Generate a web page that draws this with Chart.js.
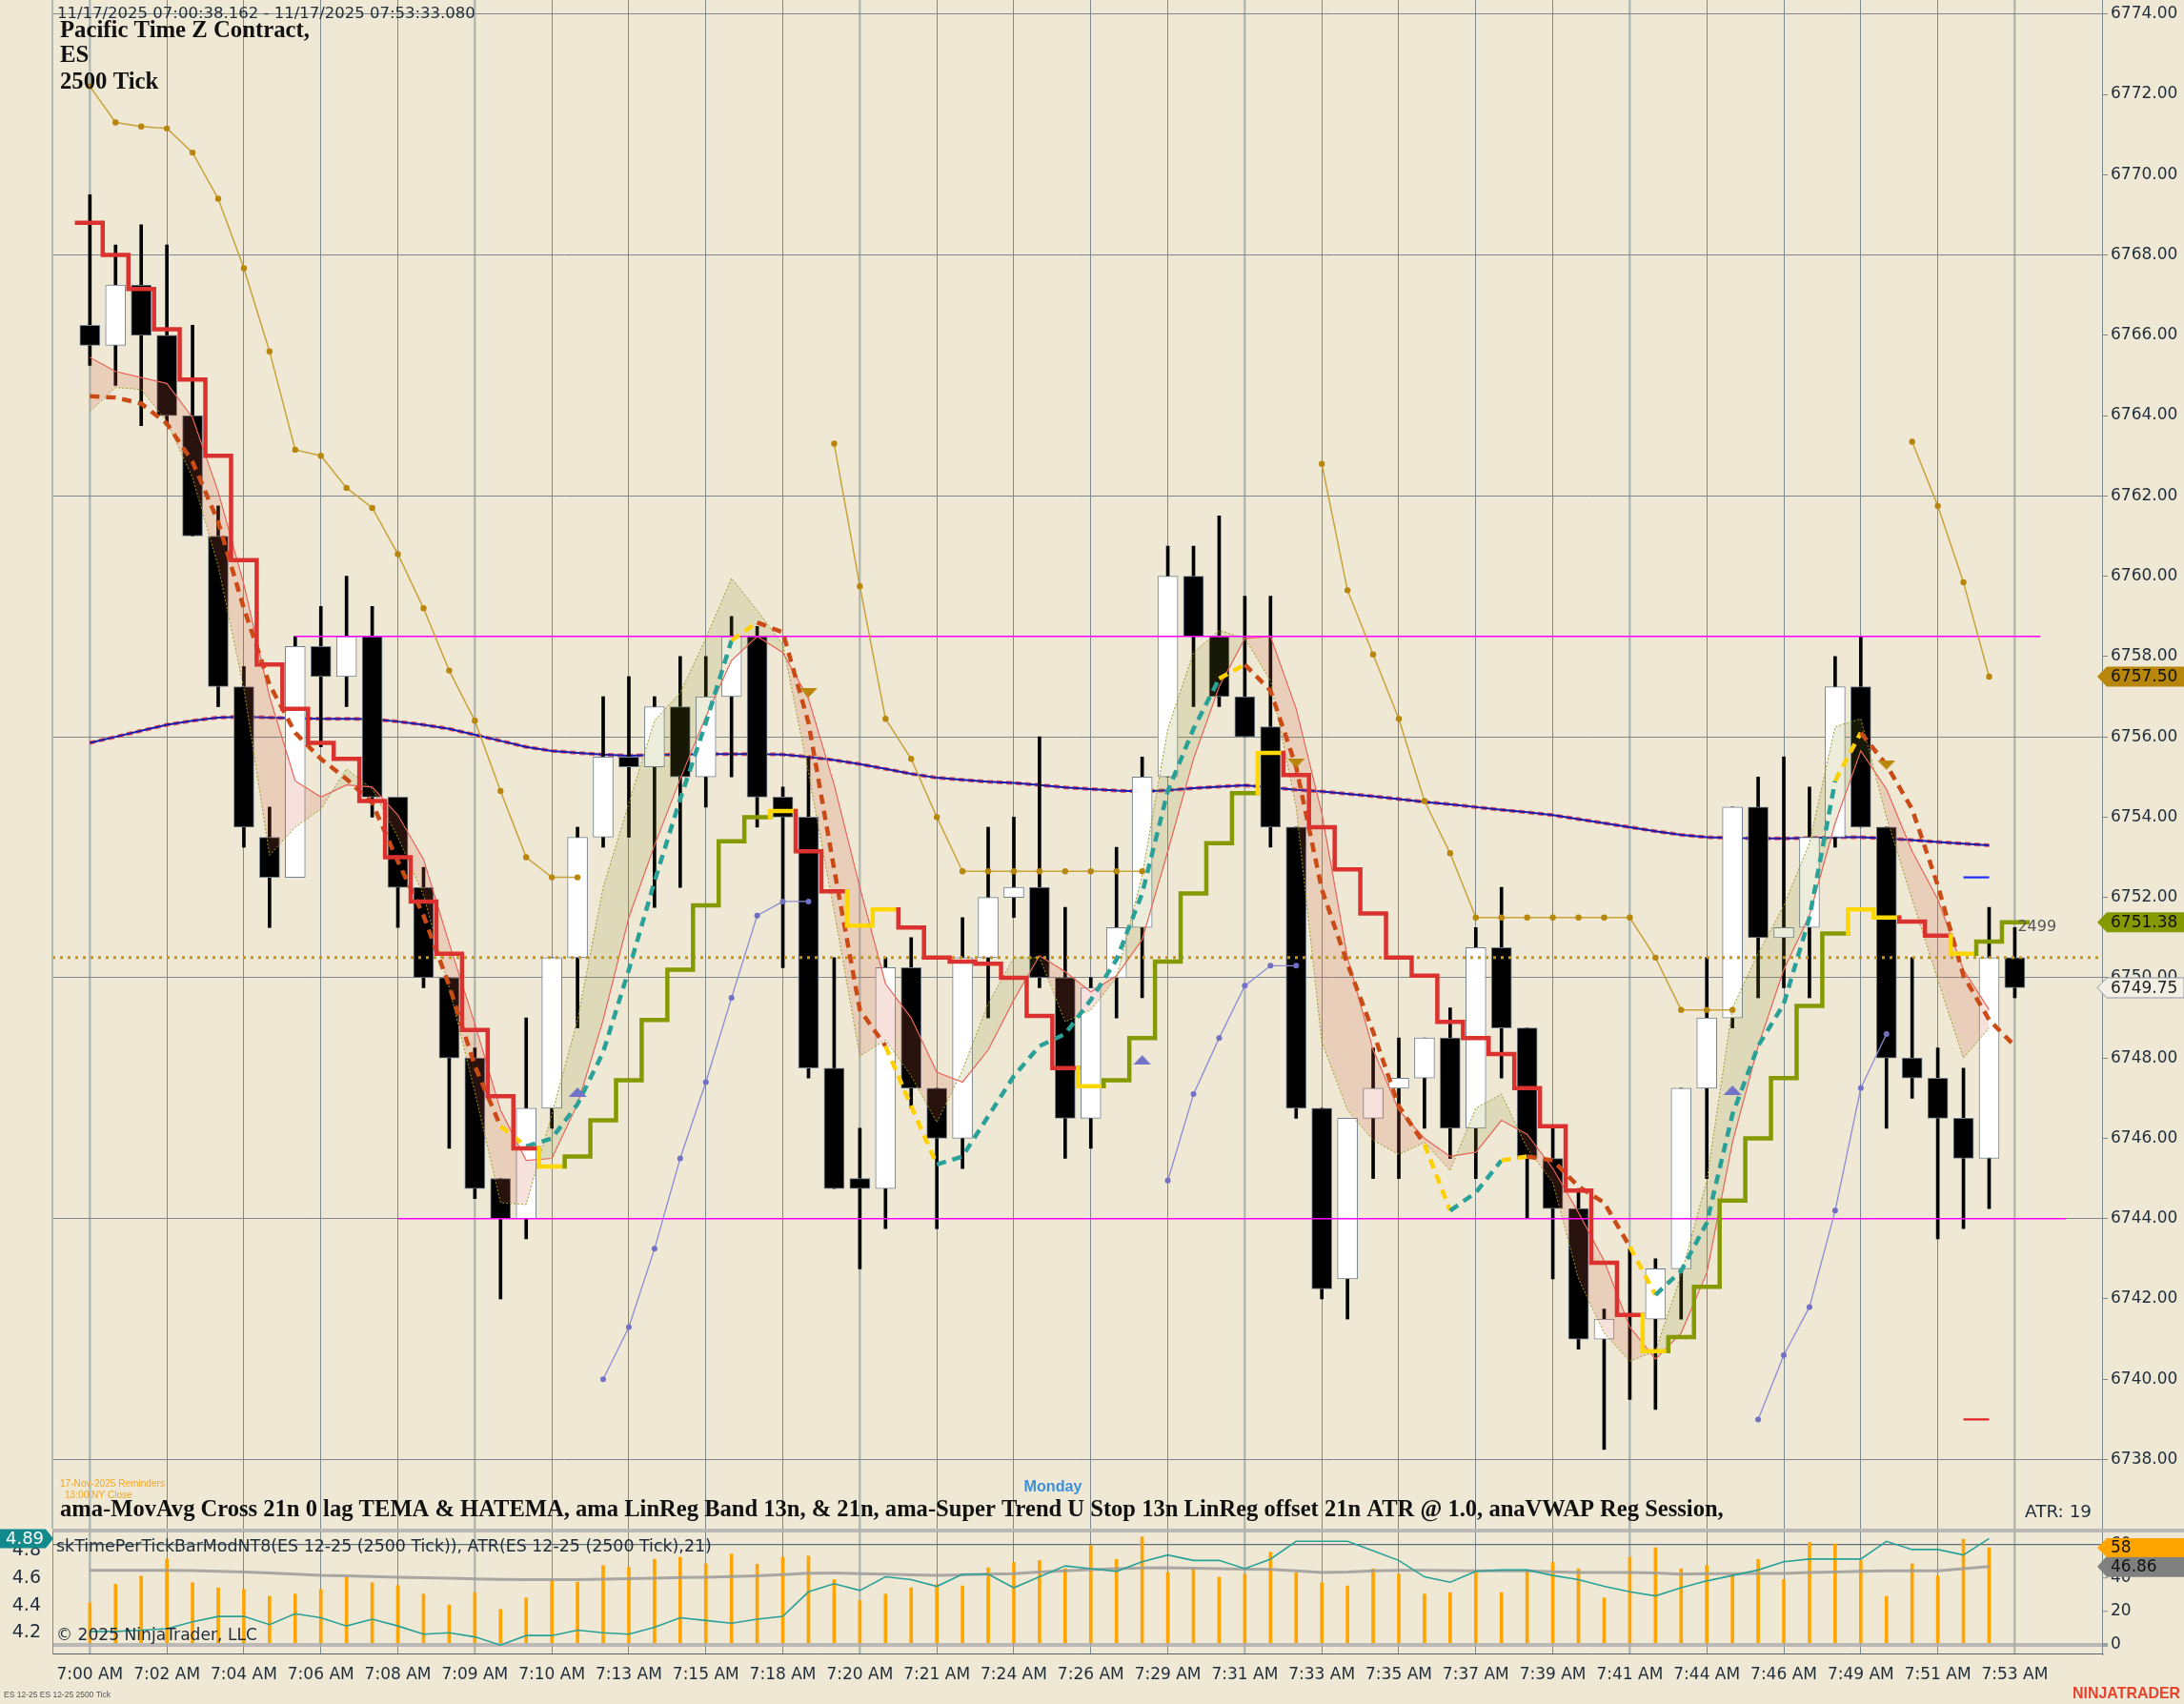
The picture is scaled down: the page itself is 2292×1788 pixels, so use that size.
<!DOCTYPE html>
<html><head><meta charset="utf-8">
<script src="https://cdn.jsdelivr.net/npm/chart.js@4.4.1/dist/chart.umd.min.js"></script>
<style>
html,body{margin:0;padding:0;background:#EEE8D5;width:2292px;height:1788px;overflow:hidden}
canvas{position:absolute;left:0}
#main{top:0}
#sub{top:1604px}
</style></head><body>
<canvas id="main" width="2292" height="1604"></canvas>
<canvas id="sub" width="2292" height="184"></canvas>
<script>
const N = null;
const timeLabels = ['7:00 AM','7:02 AM','7:04 AM','7:06 AM','7:08 AM','7:09 AM','7:10 AM','7:13 AM','7:15 AM','7:18 AM','7:20 AM','7:21 AM','7:24 AM','7:26 AM','7:29 AM','7:31 AM','7:33 AM','7:35 AM','7:37 AM','7:39 AM','7:41 AM','7:44 AM','7:46 AM','7:49 AM','7:51 AM','7:53 AM'];

const openP = [6766.25,6765.75,6767.25,6766.0,6764.0,6761.0,6757.25,6753.5,6752.5,6758.25,
6757.5,6758.5,6754.5,6752.25,6750.0,6748.0,6745.0,6744.0,6746.75,6750.5,
6753.5,6755.5,6755.25,6756.75,6755.0,6757.0,6758.5,6754.5,6754.0,6747.75,
6745.0,6744.75,6750.25,6747.25,6746.0,6750.5,6752.0,6752.25,6750.0,6746.5,
6750.0,6751.25,6755.0,6760.0,6758.5,6757.0,6756.25,6753.75,6746.75,6742.5,
6746.5,6747.25,6747.5,6748.5,6746.25,6750.75,6748.75,6745.5,6744.25,6741.0,
6741.5,6741.5,6742.75,6747.25,6749.0,6754.25,6751.0,6751.25,6753.5,6757.25,
6753.75,6748.0,6747.5,6746.5,6745.5,6750.5];
const highP = [6769.5,6768.25,6768.75,6768.25,6766.25,6761.75,6757.75,6754.25,6758.5,6759.25,
6760.0,6759.25,6754.5,6752.75,6750.0,6748.25,6745.0,6749.0,6750.5,6753.75,
6757.0,6757.5,6757.0,6758.0,6758.0,6759.0,6758.75,6754.75,6755.5,6750.5,
6746.25,6750.5,6751.0,6747.25,6751.5,6753.75,6754.0,6756.0,6751.75,6750.0,
6753.25,6755.5,6760.75,6760.75,6761.5,6759.5,6759.5,6753.75,6746.75,6746.5,
6748.25,6748.5,6748.5,6749.25,6751.25,6752.25,6748.75,6746.25,6744.75,6741.75,
6743.25,6743.0,6747.25,6750.5,6754.25,6755.0,6755.5,6754.75,6758.0,6758.5,
6753.75,6750.5,6748.25,6747.75,6751.75,6751.25];
const lowP = [6765.25,6764.75,6763.75,6763.75,6761.0,6756.75,6753.25,6751.25,6752.5,6755.75,
6756.75,6754.0,6751.25,6749.75,6745.75,6744.5,6742.0,6743.5,6746.25,6748.75,
6753.25,6753.5,6751.75,6752.25,6754.25,6755.0,6753.75,6750.25,6747.5,6744.75,
6742.75,6743.75,6746.75,6743.75,6745.25,6749.0,6751.5,6749.75,6745.5,6745.75,
6749.0,6749.5,6755.0,6756.75,6756.75,6756.0,6753.25,6746.5,6742.0,6741.5,
6745.0,6745.0,6746.25,6745.5,6745.0,6747.5,6744.0,6742.5,6740.75,6738.25,
6739.5,6739.25,6741.5,6745.0,6748.75,6749.5,6749.75,6749.5,6753.25,6753.75,
6746.25,6747.0,6743.5,6743.75,6744.25,6749.5];
const closeP = [6765.75,6767.25,6766.0,6764.0,6761.0,6757.25,6753.75,6752.5,6758.25,6757.5,
6758.5,6754.5,6752.25,6750.0,6748.0,6744.75,6744.0,6746.75,6750.5,6753.5,
6755.5,6755.25,6756.75,6755.0,6757.0,6758.5,6754.5,6754.0,6747.75,6744.75,
6744.75,6750.25,6747.25,6746.0,6750.5,6752.0,6752.25,6750.0,6746.5,6749.75,
6751.25,6755.0,6760.0,6758.5,6757.0,6756.0,6753.75,6746.75,6742.25,6746.5,
6747.25,6747.5,6748.5,6746.25,6750.75,6748.75,6745.5,6744.25,6741.0,6741.5,
6741.5,6742.75,6747.25,6749.0,6754.25,6751.0,6751.25,6753.5,6757.25,6753.75,
6748.0,6747.5,6746.5,6745.5,6750.5,6749.75];

// Super Trend stop line and its state per bar (r = down, g = up, y = flip)
const stopLine = [6768.8,6768.0,6767.15,6766.15,6764.9,6763.0,6760.4,6757.8,6756.7,6755.85,
6755.45,6754.4,6753.0,6751.9,6750.6,6748.7,6747.05,6745.75,6745.3,6745.55,
6746.45,6747.45,6748.95,6750.2,6751.8,6753.4,6754.0,6754.15,6753.15,6752.15,
6751.3,6751.7,6751.25,6750.5,6750.4,6750.35,6750.0,6749.05,6747.75,6747.3,
6747.45,6748.5,6750.4,6752.1,6753.35,6754.6,6755.6,6755.05,6753.75,6752.7,
6751.6,6750.5,6750.05,6748.9,6748.5,6748.1,6747.25,6746.3,6744.7,6742.9,
6741.6,6740.7,6741.05,6742.3,6744.45,6746.0,6747.5,6749.3,6751.1,6751.7,
6751.5,6751.4,6751.05,6750.6,6750.9,6751.38];
const stopState = ('rrrrrrrrrrrrrrrrrr'+'y'+'gggggggg'+'y'+'rr'+'yy'+'rrrrrrr'+'y'+'gggggg'+'y'+'rrrrrrrrrrrrrr'+'y'+'ggggggg'+'yy'+'rr'+'y'+'gg').split('');

// MovAvg cross (TEMA / HATEMA) line and direction per bar (d = down, u = up, y = turn)
const maLine = [6764.48,6764.45,6764.3,6763.8,6762.85,6761.35,6759.2,6757.3,6756.1,6755.45,
6754.95,6754.35,6752.9,6751.55,6749.8,6747.8,6746.3,6745.8,6746.0,6746.85,
6748.15,6750.2,6752.4,6754.45,6756.35,6758.4,6758.85,6758.6,6756.35,6752.7,
6749.2,6748.3,6746.8,6745.35,6745.55,6746.55,6747.55,6748.3,6748.6,6749.45,
6750.45,6752.1,6754.65,6756.2,6757.45,6757.8,6757.15,6755.25,6752.2,6750.35,
6748.65,6746.8,6745.85,6744.2,6744.65,6745.45,6745.55,6745.45,6744.8,6744.4,
6743.3,6742.1,6742.7,6743.9,6746.6,6748.3,6749.35,6751.5,6754.9,6756.1,
6755.3,6754.2,6752.3,6750.05,6748.95,6748.3];
const maState = ('ddddddddddddddddd'+'y'+'uuuuuuuu'+'y'+'ddddd'+'yy'+'uuuuuuuuuuu'+'y'+'ddddddd'+'y'+'uu'+'y'+'dddd'+'y'+'uuuuuuu'+'y'+'dddddd').split('');

// LinReg band: 21n line (red) and 13n line (olive)
const bandUpper = [6765.45,6765.1,6764.95,6764.8,6763.95,6762.1,6759.8,6757.0,6754.9,6754.5,
6754.8,6754.75,6754.05,6752.95,6750.85,6748.85,6746.7,6745.45,6745.5,6746.85,
6748.95,6751.5,6753.3,6754.95,6756.5,6757.9,6758.5,6758.1,6756.95,6754.8,
6752.25,6749.85,6749.0,6747.65,6747.4,6748.2,6749.45,6750.55,6750.15,6749.65,
6750.05,6750.95,6753.15,6755.45,6757.25,6758.45,6758.5,6756.7,6754.1,6750.5,
6748.2,6746.7,6746.0,6745.55,6745.65,6746.45,6746.1,6745.25,6744.15,6742.95,
6741.3,6740.5,6741.15,6742.65,6745.9,6748.3,6750.2,6751.55,6753.85,6755.65,
6754.7,6753.15,6751.95,6750.2,6749.2];
const bandLower = [6764.1,6764.7,6764.65,6763.85,6762.45,6760.25,6757.2,6753.05,6753.75,6754.2,
6755.2,6754.7,6753.5,6752.05,6749.75,6747.15,6744.4,6744.35,6746.6,6748.95,
6752.25,6754.35,6756.4,6757.1,6758.45,6759.95,6759.15,6758.3,6755.1,6751.65,
6748.05,6748.45,6747.55,6746.4,6747.7,6749.35,6750.5,6750.5,6748.9,6749.2,
6750.0,6752.55,6756.2,6758.1,6758.65,6758.45,6757.4,6754.25,6748.4,6746.7,
6745.95,6745.6,6745.9,6745.2,6746.75,6747.1,6745.75,6744.9,6742.5,6741.15,
6740.45,6740.7,6742.6,6744.95,6749.25,6750.6,6751.8,6753.35,6756.25,6756.45,
6754.0,6751.95,6749.95,6748.0,6748.75];

const vwap = [6755.85,6756.0,6756.15,6756.3,6756.4,6756.48,6756.5,6756.48,6756.46,6756.45,
6756.45,6756.44,6756.38,6756.3,6756.2,6756.05,6755.9,6755.75,6755.65,6755.6,
6755.56,6755.53,6755.55,6755.56,6755.57,6755.57,6755.57,6755.56,6755.5,6755.42,
6755.32,6755.2,6755.08,6754.98,6754.93,6754.88,6754.85,6754.8,6754.74,6754.7,
6754.66,6754.64,6754.67,6754.72,6754.76,6754.79,6754.74,6754.68,6754.64,6754.58,
6754.52,6754.45,6754.38,6754.32,6754.25,6754.18,6754.12,6754.05,6753.95,6753.85,
6753.75,6753.65,6753.56,6753.5,6753.48,6753.47,6753.47,6753.48,6753.5,6753.5,
6753.47,6753.43,6753.38,6753.34,6753.3];

const goldStop = [6772.2,6771.3,6771.2,6771.15,6770.55,6769.4,6767.67,6765.6,6763.15,6763.0,
6762.2,6761.7,6760.55,6759.2,6757.65,6756.4,6754.65,6753.0,6752.5,6752.5,
N,N,N,N,N,N,N,N,N,6763.3,
6759.75,6756.45,6755.45,6754.0,6752.65,6752.65,6752.65,6752.65,6752.65,6752.65,
6752.65,6752.65,N,N,N,N,N,N,6762.8,6759.65,
6758.05,6756.45,6754.4,6753.1,6751.5,6751.5,6751.5,6751.5,6751.5,6751.5,
6751.5,6750.5,6749.2,6749.2,6749.2,N,N,N,N,N,
N,6763.35,6761.75,6759.85,6757.5,N];
const purpleStop = [N,N,N,N,N,N,N,N,N,N,
N,N,N,N,N,N,N,N,N,N,
6740.0,6741.3,6743.25,6745.5,6747.4,6749.5,6751.55,6751.9,6751.9,N,
N,N,N,N,N,N,N,N,N,N,
N,N,6744.95,6747.1,6748.5,6749.8,6750.3,6750.3,N,N,
N,N,N,N,N,N,N,N,N,N,
N,N,N,N,N,6739.0,6740.6,6741.8,6744.2,6747.25,
6748.6,N,N,N,N,N];

const upBars = [19, 41, 64];
const upPrices = [6747.15, 6747.95, 6747.2];
const downBars = [28, 47, 70];
const downPrices = [6757.1, 6755.35, 6755.3];

const levelPrices = [6758.5, 6744.0];
const levelFrom = [8, 12];
const levelTo = [76, 77];
const dottedLevel = 6750.5;
const markPrices = [6752.5, 6739.0];
const markFrom = 73, markTo = 74;

// lower panel
const tickBar = [25.1,36.2,41.1,51.4,37.1,34.1,33.1,29.0,30.3,33.1,
40.4,37.1,35.4,30.3,23.8,31.2,21.1,28.0,38.3,37.5,
47.4,46.3,51.2,52.4,48.4,54.3,48.2,52.4,53.1,39.0,
26.5,30.3,34.1,36.0,35.2,46.1,49.3,50.5,45.5,59.6,
51.2,64.6,43.2,46.1,40.4,42.3,55.4,43.2,37.1,35.2,
45.5,42.3,30.3,31.2,44.2,31.2,44.2,49.3,45.5,28.0,
52.4,58.1,45.5,47.4,42.3,51.2,39.0,61.3,60.4,50.5,
29.0,48.4,41.3,63.2,58.1];
const timePerTick = [4.21,4.21,4.22,4.23,4.28,4.32,4.32,4.26,4.34,4.31,
4.25,4.30,4.25,4.19,4.20,4.17,4.11,4.18,4.18,4.22,
4.20,4.19,4.24,4.31,4.29,4.27,4.30,4.32,4.50,4.56,
4.51,4.61,4.59,4.54,4.63,4.63,4.53,4.61,4.69,4.67,
4.65,4.72,4.77,4.73,4.73,4.67,4.74,4.87,4.87,4.87,
4.80,4.73,4.61,4.57,4.65,4.66,4.66,4.62,4.59,4.54,
4.50,4.47,4.53,4.58,4.62,4.66,4.72,4.74,4.74,4.74,
4.87,4.81,4.81,4.77,4.89];
const atrLine = [44.6,44.6,44.6,44.6,44.4,44.0,43.5,43.0,42.3,41.5,
41.2,40.8,40.4,40.1,39.8,39.4,39.1,39.0,39.0,39.0,
39.2,39.5,39.8,40.3,40.4,40.8,41.3,42.0,42.8,43.0,
42.6,42.3,41.8,41.6,41.9,42.3,42.6,43.6,44.2,45.0,
45.5,46.0,46.1,45.8,45.5,45.3,45.1,44.2,43.2,43.5,
44.2,44.5,44.6,44.4,44.2,44.2,44.2,43.7,43.2,43.2,
43.2,43.0,42.3,42.5,42.6,42.7,42.7,43.2,43.6,44.0,
44.2,44.2,44.2,45.5,46.86];

const headerRange = '11/17/2025 07:00:38.162 - 11/17/2025 07:53:33.080';
const headerLines = ['Pacific Time Z Contract,', 'ES', '2500 Tick'];
const indicatorTitle = 'ama-MovAvg Cross 21n 0 lag TEMA & HATEMA, ama LinReg Band 13n, & 21n, ama-Super Trend U Stop 13n LinReg offset 21n ATR @ 1.0, anaVWAP Reg Session,';
const reminderLines = ['17-Nov-2025 Reminders', '13:00 NY Close'];
const subTitle = 'skTimePerTickBarModNT8(ES 12-25 (2500 Tick)), ATR(ES 12-25 (2500 Tick),21)';

// ---------- styling / helpers ----------
const SANS = '"DejaVu Sans", sans-serif';
const ARIAL = '"Liberation Sans", Arial, sans-serif';
const SERIF = '"Liberation Serif", serif';
const TXT = '#1f2d3a';
const GRID = '#7d878c';
const GRID_LIGHT = '#b2bab5';
const xMin = -1.46, xMax = 78.4;
const idx = openP.map((_, i) => i);
const tickIdx = timeLabels.map((_, k) => k * 3);
const stepColors = { r: '#dc322f', g: '#859900', y: '#ffd700' };
const maColors = { d: '#cb4b16', u: '#2aa198', y: '#ffd000' };

const pts = arr => arr.map((v, i) => ({ x: i, y: v }));
function noPad(s) { s.paddingTop = 0; s.paddingBottom = 0; s.paddingLeft = 0; s.paddingRight = 0; }
const axisFont = (size) => ({ family: 'DejaVu Sans', size: size, lineHeight: 0.02 });
function xGrid() {
  return {
    color: c => (c.tick && c.tick.value % 15 === 0) ? GRID_LIGHT : GRID,
    lineWidth: c => (c.tick && c.tick.value % 15 === 0) ? 2.5 : 1,
    drawTicks: false, offset: false
  };
}
function triCanvas(color, down) {
  const c = document.createElement('canvas'); c.width = 19; c.height = 10;
  const g = c.getContext('2d'); g.fillStyle = color; g.beginPath();
  if (down) { g.moveTo(0, 0); g.lineTo(19, 0); g.lineTo(9.5, 10); }
  else { g.moveTo(9.5, 0); g.lineTo(19, 10); g.lineTo(0, 10); }
  g.closePath(); g.fill(); return c;
}
function fitSize(ctx, text, width, weight, family) {
  ctx.font = `${weight} 20px ${family}`;
  return 20 * width / ctx.measureText(text).width;
}
function drawText(ctx, text, x, y, size, weight, family, color, align) {
  ctx.font = `${weight} ${size.toFixed(2)}px ${family}`;
  ctx.fillStyle = color; ctx.textAlign = align || 'left'; ctx.textBaseline = 'middle';
  ctx.fillText(text, x, y);
}
function tag(ctx, x0, xEnd, y, h, text, bg, fg, border, font, dir) {
  ctx.beginPath();
  if (dir === 'right') {
    ctx.moveTo(xEnd + 4, y); ctx.lineTo(xEnd - 4, y - h / 2); ctx.lineTo(x0, y - h / 2);
    ctx.lineTo(x0, y + h / 2); ctx.lineTo(xEnd - 4, y + h / 2);
  } else {
    ctx.moveTo(x0 - 5, y); ctx.lineTo(x0 + 5, y - h / 2); ctx.lineTo(xEnd, y - h / 2);
    ctx.lineTo(xEnd, y + h / 2); ctx.lineTo(x0 + 5, y + h / 2);
  }
  ctx.closePath(); ctx.fillStyle = bg; ctx.fill();
  if (border) { ctx.strokeStyle = border; ctx.lineWidth = 1; ctx.stroke(); }
  ctx.fillStyle = fg; ctx.font = font; ctx.textBaseline = 'middle';
  if (dir === 'right') { ctx.textAlign = 'center'; ctx.fillText(text, (x0 + xEnd) / 2, y + 1); }
  else { ctx.textAlign = 'left'; ctx.fillText(text, x0 + 9, y + 1); }
}

// ---------- datasets for main panel ----------
const stepPts = [];
stopLine.forEach((v, i) => { stepPts.push({ x: i - 0.5, y: v }, { x: i + 0.5, y: v }); });

const mainDatasets = [
  { label: 'vwapHalo', data: pts(vwap), borderColor: 'rgba(230,40,40,0.75)', borderWidth: 4, borderDash: [6, 4], pointRadius: 0, order: 91 },
  { label: 'vwap', data: pts(vwap), borderColor: '#1a1ab0', borderWidth: 2, pointRadius: 0, order: 90 },
  { type: 'bar', label: 'wick', data: idx.map(i => ({ x: i, y: [lowP[i], highP[i]] })),
    backgroundColor: '#000000', barThickness: 3, grouped: false, order: 80 },
  { type: 'bar', label: 'body', data: idx.map(i => ({ x: i, y: [Math.min(openP[i], closeP[i]), Math.max(openP[i], closeP[i])] })),
    backgroundColor: idx.map(i => closeP[i] >= openP[i] ? '#ffffff' : '#000000'),
    borderColor: '#72818f', borderWidth: 1, borderSkipped: false, barThickness: 21, grouped: false, order: 79 },
  { label: 'bandUpper', data: pts(bandUpper), borderColor: '#e8645a', borderWidth: 1.2, pointRadius: 0, order: 70,
    fill: { target: '+1', above: 'rgba(215,95,70,0.19)', below: 'rgba(140,140,40,0.17)' } },
  { label: 'bandLower', data: pts(bandLower), borderColor: '#9a9a2a', borderWidth: 1, borderDash: [2, 2], pointRadius: 0, order: 69 },
  { label: 'dottedLevel', data: [{ x: xMin, y: dottedLevel }, { x: xMax, y: dottedLevel }],
    borderColor: '#c8960a', borderWidth: 3, borderDash: [3, 5], pointRadius: 0, order: 66 },
  ...levelPrices.map((p, k) => ({ label: 'level' + k, data: [{ x: levelFrom[k], y: p }, { x: levelTo[k], y: p }],
    borderColor: '#ff00ff', borderWidth: 1.6, pointRadius: 0, order: 65 })),
  { label: 'gold', data: pts(goldStop), borderColor: '#c9a23a', borderWidth: 1.5, pointRadius: 3.2,
    pointBackgroundColor: '#b8860b', pointBorderWidth: 0, order: 58 },
  { label: 'purple', data: pts(purpleStop), borderColor: '#8c8cd4', borderWidth: 1.3, pointRadius: 3,
    pointBackgroundColor: '#7070c4', pointBorderWidth: 0, order: 57 },
  { label: 'ma', data: pts(maLine), borderWidth: 4.5, borderDash: [10, 7], pointRadius: 0, order: 50,
    borderColor: maColors.d, segment: { borderColor: c => maColors[maState[c.p1DataIndex]] } },
  { label: 'stop', data: stepPts, borderWidth: 4.5, pointRadius: 0, order: 40, borderCapStyle: 'square',
    borderColor: stepColors.r, segment: { borderColor: c => stepColors[stopState[Math.floor(c.p1DataIndex / 2)]] } },
  ...markPrices.map((p, k) => ({ label: 'mark' + k, data: [{ x: markFrom, y: p }, { x: markTo, y: p }],
    borderColor: k === 0 ? '#1f2fff' : '#e02020', borderWidth: 2.2, pointRadius: 0, order: 35 })),
  { label: 'up', data: upBars.map((b, k) => ({ x: b, y: upPrices[k] })), showLine: false,
    pointStyle: triCanvas('#7272c8', false), pointRadius: 9, order: 30 },
  { label: 'down', data: downBars.map((b, k) => ({ x: b, y: downPrices[k] })), showLine: false,
    pointStyle: triCanvas('#b8860b', true), pointRadius: 9, order: 30 }
];

const mainOverlay = {
  id: 'mainOverlay',
  afterDraw(chart) {
    const ctx = chart.ctx, ca = chart.chartArea, xs = chart.scales.x, ys = chart.scales.y;
    ctx.save();
    ctx.strokeStyle = GRID_LIGHT; ctx.lineWidth = 2;
    ctx.beginPath(); ctx.moveTo(ca.left, ca.top); ctx.lineTo(ca.left, ca.bottom); ctx.stroke();

    drawText(ctx, headerRange, 60, 15, fitSize(ctx, headerRange, 439, '', SANS), '', SANS, TXT);
    const hs = fitSize(ctx, headerLines[0], 262, 'bold', SERIF);
    drawText(ctx, headerLines[0], 63, 33, hs, 'bold', SERIF, '#111');
    drawText(ctx, headerLines[1], 63, 59, hs, 'bold', SERIF, '#111');
    drawText(ctx, headerLines[2], 63, 87, hs, 'bold', SERIF, '#111');

    drawText(ctx, reminderLines[0], 63, 1557, fitSize(ctx, reminderLines[0], 110, '', ARIAL), '', ARIAL, '#f5a623');
    drawText(ctx, reminderLines[1], 68, 1569, fitSize(ctx, reminderLines[0], 110, '', ARIAL), '', ARIAL, '#f5a623');
    drawText(ctx, 'Monday', 1105, 1561, fitSize(ctx, 'Monday', 61, 'bold', ARIAL), 'bold', ARIAL, '#3d8fd8', 'center');
    drawText(ctx, indicatorTitle, 63, 1585, fitSize(ctx, indicatorTitle, 1746, 'bold', SERIF), 'bold', SERIF, '#111');
    drawText(ctx, 'ATR: 19', 2195, 1587, fitSize(ctx, 'ATR: 19', 70, '', SANS), '', SANS, TXT, 'right');

    drawText(ctx, String(2499), xs.getPixelForValue(stopLine.length - 1) + 3, ys.getPixelForValue(6751.26), 16, '', SANS, '#555', 'left');

    const f = `17px ${SANS}`;
    tag(ctx, ca.right, 2292, ys.getPixelForValue(goldStop[74]), 21, goldStop[74].toFixed(2), '#b8860b', '#111', null, f);
    tag(ctx, ca.right, 2292, ys.getPixelForValue(stopLine[75]), 21, stopLine[75].toFixed(2), '#859900', '#111', null, f);
    tag(ctx, ca.right, 2292, ys.getPixelForValue(closeP[75]), 21, closeP[75].toFixed(2), '#f4efe4', '#222', '#8a98a8', f);
    ctx.restore();
  }
};

const priceTicks = []; for (let p = 6738; p <= 6774; p += 2) priceTicks.push(p);

new Chart(document.getElementById('main'), {
  type: 'line',
  data: { datasets: mainDatasets },
  options: {
    responsive: false, animation: false, devicePixelRatio: 1, events: [],
    layout: { autoPadding: false, padding: { left: 55, top: 0, right: 0, bottom: 0 } },
    plugins: { legend: { display: false }, tooltip: { enabled: false } },
    scales: {
      x: {
        type: 'linear', min: xMin, max: xMax, offset: false,
        afterBuildTicks: s => { s.ticks = tickIdx.map(v => ({ value: v })); },
        afterFit: s => { s.height = 0; noPad(s); },
        ticks: { display: false, autoSkip: false, padding: 0 },
        grid: xGrid(), border: { display: false }
      },
      y: {
        type: 'linear', position: 'right', min: 6736.28, max: 6774.35,
        afterBuildTicks: s => { s.ticks = priceTicks.map(v => ({ value: v })); },
        afterFit: s => { s.width = 86; noPad(s); },
        ticks: { callback: v => Number(v).toFixed(2), color: TXT, font: axisFont(17), padding: 3, autoSkip: false },
        grid: { color: c => (c.tick && c.tick.value % 6 === 0) ? GRID : 'rgba(0,0,0,0)', tickColor: GRID, tickLength: 6, lineWidth: 1 },
        border: { display: true, color: GRID }
      }
    }
  },
  plugins: [mainOverlay]
});

// ---------- lower panel ----------
const subOverlay = {
  id: 'subOverlay',
  afterDraw(chart) {
    const ctx = chart.ctx, ca = chart.chartArea, yR = chart.scales.yR, yL = chart.scales.yL;
    ctx.save();
    ctx.strokeStyle = 'rgba(170,170,170,0.75)'; ctx.lineWidth = 4;
    ctx.beginPath(); ctx.moveTo(ca.left, ca.top); ctx.lineTo(2292, ca.top); ctx.stroke();
    drawText(ctx, subTitle, 59, 19, fitSize(ctx, subTitle, 688, '', SANS), '', SANS, TXT);
    drawText(ctx, '© 2025 NinjaTrader, LLC', 59, 113, fitSize(ctx, '© 2025 NinjaTrader, LLC', 211, '', SANS), '', SANS, TXT);
    drawText(ctx, 'ES 12-25 ES 12-25 2500 Tick', 4, 175, fitSize(ctx, 'ES 12-25 ES 12-25 2500 Tick', 112, '', ARIAL), '', ARIAL, '#555');
    drawText(ctx, 'NINJATRADER', 2288, 174, fitSize(ctx, 'NINJATRADER', 113, 'bold', ARIAL), 'bold', ARIAL, '#e8432e', 'right');
    const f = `17px ${SANS}`;
    const lastT = tickBar[tickBar.length - 1], lastA = atrLine[atrLine.length - 1], lastP = timePerTick[timePerTick.length - 1];
    tag(ctx, ca.right, 2292, yR.getPixelForValue(lastA), 22, lastA.toFixed(2), '#808080', '#111', null, f);
    tag(ctx, ca.right, 2292, yR.getPixelForValue(lastT), 20, String(Math.round(lastT)), '#ffa500', '#111', null, f);
    tag(ctx, 0, 52, yL.getPixelForValue(lastP), 20, lastP.toFixed(2), '#12898a', '#ffffff', null, `18px ${SANS}`, 'right');
    ctx.restore();
  }
};

new Chart(document.getElementById('sub'), {
  type: 'line',
  data: {
    datasets: [
      { type: 'bar', label: 'tick', data: pts(tickBar), yAxisID: 'yR', backgroundColor: '#ffa500', barThickness: 3, grouped: false, order: 20 },
      { label: 'atr', data: pts(atrLine), yAxisID: 'yR', borderColor: 'rgba(155,155,155,0.85)', borderWidth: 3, pointRadius: 0, order: 15 },
      { label: 'tpt', data: pts(timePerTick), yAxisID: 'yL', borderColor: '#2aa198', borderWidth: 1.6, pointRadius: 0, order: 10 }
    ]
  },
  options: {
    responsive: false, animation: false, devicePixelRatio: 1, events: [],
    layout: { autoPadding: false, padding: { left: 0, top: 2, right: 0, bottom: 0 } },
    plugins: { legend: { display: false }, tooltip: { enabled: false } },
    scales: {
      x: {
        type: 'linear', min: xMin, max: xMax, offset: false,
        afterBuildTicks: s => { s.ticks = tickIdx.map(v => ({ value: v })); },
        afterFit: s => { s.height = 53; noPad(s); },
        ticks: { callback: (v, i) => timeLabels[i], autoSkip: false, maxRotation: 0, minRotation: 0, padding: 12,
                 color: TXT, font: { family: 'DejaVu Sans', size: 17 } },
        grid: xGrid(), border: { display: true, color: '#55606a', width: 1 }
      },
      yL: {
        type: 'linear', position: 'left', min: 4.0486, max: 4.9488,
        afterBuildTicks: s => { s.ticks = [4.2, 4.4, 4.6, 4.8].map(v => ({ value: v })); },
        afterFit: s => { s.width = 55; noPad(s); },
        ticks: { callback: v => Number(v).toFixed(1), color: TXT, font: axisFont(19), padding: 4 },
        grid: { display: false }, border: { display: true, color: GRID }
      },
      yR: {
        type: 'linear', position: 'right', min: -5.31, max: 68.4,
        afterBuildTicks: s => { s.ticks = [0, 20, 40, 60].map(v => ({ value: v })); },
        afterFit: s => { s.width = 86; noPad(s); },
        ticks: { color: TXT, font: axisFont(17), padding: 3 },
        grid: {
          color: c => !c.tick ? 'rgba(0,0,0,0)' : c.tick.value === 60 ? '#5f6e79' : c.tick.value === 0 ? 'rgba(170,170,170,0.75)' : 'rgba(0,0,0,0)',
          lineWidth: c => (c.tick && c.tick.value === 0) ? 4 : 1.3,
          tickColor: '#9aa3a8', tickLength: 6
        },
        border: { display: true, color: GRID }
      }
    }
  },
  plugins: [subOverlay]
});
</script></body></html>
